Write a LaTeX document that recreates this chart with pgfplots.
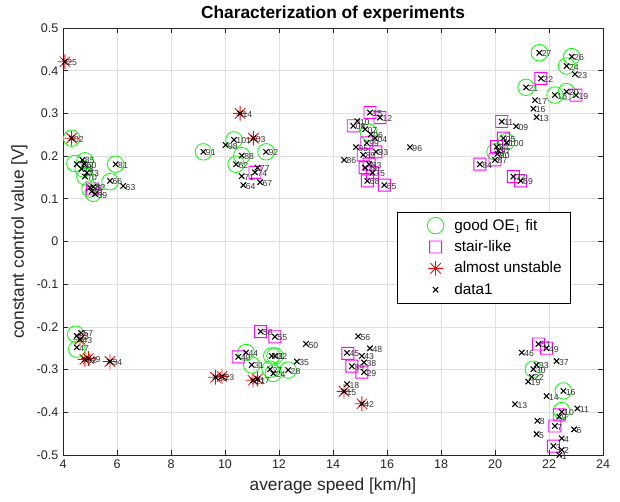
\documentclass[border=0pt]{standalone}
\usepackage{fontspec}
\setmainfont{Liberation Sans}
\usepackage{pgfplots}
\usepackage{pgfplotstable}
\pgfplotsset{compat=1.18}

\definecolor{mgreen}{rgb}{0,1,0}
\definecolor{mmag}{rgb}{1,0,1}
\definecolor{mred}{rgb}{1,0,0}
\definecolor{gridc}{rgb}{0.88,0.88,0.88}
\definecolor{axc}{rgb}{0.15,0.15,0.15}

% eight-armed red asterisk
\pgfdeclareplotmark{ast8}{%
  \pgfsetstrokecolor{mred}%
  \pgfpathmoveto{\pgfqpoint{-\pgfplotmarksize}{0pt}}%
  \pgfpathlineto{\pgfqpoint{\pgfplotmarksize}{0pt}}%
  \pgfpathmoveto{\pgfqpoint{0pt}{-\pgfplotmarksize}}%
  \pgfpathlineto{\pgfqpoint{0pt}{\pgfplotmarksize}}%
  \pgfpathmoveto{\pgfqpoint{-0.7071\pgfplotmarksize}{-0.7071\pgfplotmarksize}}%
  \pgfpathlineto{\pgfqpoint{0.7071\pgfplotmarksize}{0.7071\pgfplotmarksize}}%
  \pgfpathmoveto{\pgfqpoint{-0.7071\pgfplotmarksize}{0.7071\pgfplotmarksize}}%
  \pgfpathlineto{\pgfqpoint{0.7071\pgfplotmarksize}{-0.7071\pgfplotmarksize}}%
  \pgfusepathqstroke}

% open magenta square, painted as a filled frame
\pgfdeclareplotmark{sqmag}{%
  \pgfsetfillcolor{mmag}%
  \dimen0=\pgfplotmarksize \advance\dimen0 by 0.35pt
  \dimen2=\pgfplotmarksize \advance\dimen2 by -0.35pt
  \pgfpathrectanglecorners{\pgfqpoint{-\dimen0}{-\dimen0}}{\pgfqpoint{\dimen0}{\dimen0}}%
  \pgfpathrectanglecorners{\pgfqpoint{-\dimen2}{-\dimen2}}{\pgfqpoint{\dimen2}{\dimen2}}%
  \pgfseteorule
  \pgfusepathqfill}

% open green circle
\pgfdeclareplotmark{cgreen}{%
  \pgfsetstrokecolor{mgreen}%
  \pgfpathcircle{\pgfpointorigin}{\pgfplotmarksize}%
  \pgfusepathqstroke}

% black cross
\pgfdeclareplotmark{xblk}{%
  \pgfsetstrokecolor{black}%
  \pgfpathmoveto{\pgfqpoint{-\pgfplotmarksize}{-\pgfplotmarksize}}%
  \pgfpathlineto{\pgfqpoint{\pgfplotmarksize}{\pgfplotmarksize}}%
  \pgfpathmoveto{\pgfqpoint{-\pgfplotmarksize}{\pgfplotmarksize}}%
  \pgfpathlineto{\pgfqpoint{\pgfplotmarksize}{-\pgfplotmarksize}}%
  \pgfusepathqstroke}

% all experiments: speed, control value, run number
\pgfplotstableread{
x y lab
4.07 0.421 25
4.32 0.242 02
4.51 0.181 35
4.72 0.191 85
4.79 0.181 60
4.69 0.170 78
4.88 0.161 73
4.81 0.152 70
5.00 0.126 32
5.12 0.128 82
5.06 0.117 61
5.19 0.111 39
5.95 0.181 81
5.74 0.142 66
6.23 0.130 63
10.56 0.300 14
11.05 0.242 03
10.33 0.238 101
10.02 0.226 98
9.20 0.210 91
11.52 0.210 92
10.62 0.201 88
10.41 0.181 62
11.20 0.173 77
11.11 0.162 74
10.62 0.153 71
10.68 0.132 64
11.30 0.139 67
15.37 0.302 15
15.74 0.290 12
14.90 0.282 10
14.75 0.271 08
15.19 0.263 07
15.40 0.251 06
15.56 0.242 04
15.25 0.231 99
14.85 0.221 95
15.12 0.203 89
15.59 0.210 93
14.41 0.191 86
16.85 0.221 96
15.34 0.181 83
15.19 0.173 79
15.47 0.161 75
15.27 0.142 68
15.90 0.132 65
21.64 0.442 27
22.84 0.433 26
22.65 0.411 24
22.96 0.392 23
21.70 0.382 22
21.15 0.361 21
22.22 0.343 18
22.65 0.351 20
23.00 0.343 19
21.48 0.331 17
21.42 0.311 16
21.54 0.291 13
20.25 0.281 11
20.78 0.270 09
20.31 0.242 05
20.43 0.231 100
20.06 0.222 94
20.12 0.213 97
20.09 0.205 90
20.00 0.191 87
19.44 0.181 84
20.68 0.152 72
20.95 0.142 69
4.67 -0.214 57
4.51 -0.221 53
4.63 -0.229 43
4.51 -0.248 47
4.81 -0.276 52
4.94 -0.274 49
5.74 -0.281 34
11.32 -0.211 58
11.85 -0.223 55
13.00 -0.240 50
10.78 -0.260 44
10.49 -0.270 40
10.99 -0.289 31
11.73 -0.268 41
11.85 -0.268 32
12.66 -0.281 35
12.34 -0.301 28
11.67 -0.299 27
11.79 -0.309 24
9.65 -0.318 30
9.89 -0.316 23
11.04 -0.325 21
11.20 -0.322 17
14.93 -0.222 56
15.37 -0.250 48
14.52 -0.261 45
15.07 -0.268 43
15.15 -0.283 38
14.70 -0.292 39
15.15 -0.306 29
14.52 -0.334 18
14.41 -0.351 15
15.07 -0.380 42
21.61 -0.240 51
21.91 -0.250 49
20.99 -0.260 46
22.28 -0.280 37
21.54 -0.289 33
21.42 -0.299 30
21.36 -0.317 22
21.23 -0.328 19
22.53 -0.350 16
21.91 -0.362 14
20.74 -0.381 13
23.05 -0.391 11
22.47 -0.399 10
22.38 -0.410 9
21.57 -0.420 8
22.22 -0.432 7
22.93 -0.440 6
21.54 -0.451 5
22.47 -0.461 4
22.16 -0.479 3
22.47 -0.488 2
22.38 -0.500 1
}\alldata

% runs with a good first-order OE fit
\pgfplotstableread{
x y
4.32 0.242
4.44 0.183
4.81 0.189
4.75 0.170
4.81 0.152
5.00 0.123
5.12 0.113
5.74 0.140
5.95 0.181
10.33 0.238
9.20 0.210
11.52 0.210
10.62 0.201
10.41 0.181
15.31 0.256
21.64 0.442
22.84 0.433
22.65 0.411
21.15 0.361
22.22 0.343
22.65 0.351
20.43 0.234
20.00 0.210
4.47 -0.217
4.51 -0.252
10.78 -0.260
10.99 -0.289
11.73 -0.268
11.85 -0.268
11.67 -0.299
11.79 -0.309
12.34 -0.301
21.42 -0.299
22.53 -0.350
22.47 -0.396
}\goodfit

% runs with a stair-like response
\pgfplotstableread{
x y
5.09 0.123
11.11 0.162
15.37 0.302
15.74 0.290
14.75 0.271
15.25 0.231
15.12 0.203
15.59 0.210
15.34 0.181
15.19 0.173
15.47 0.161
15.27 0.142
15.90 0.132
21.70 0.382
23.00 0.343
20.25 0.281
20.31 0.242
20.06 0.222
20.00 0.191
19.44 0.181
20.68 0.152
20.95 0.142
11.32 -0.211
11.85 -0.223
10.49 -0.270
14.55 -0.262
14.70 -0.292
15.07 -0.306
21.61 -0.240
21.91 -0.250
22.38 -0.406
22.22 -0.432
22.16 -0.479
}\stair

% runs that were almost unstable
\pgfplotstableread{
x y
4.07 0.421
4.32 0.242
10.56 0.300
11.05 0.242
4.63 -0.229
4.81 -0.276
4.94 -0.274
5.74 -0.281
9.65 -0.318
9.89 -0.316
11.04 -0.325
11.20 -0.322
14.41 -0.351
15.07 -0.380
}\unstable

\begin{document}
\begin{tikzpicture}
\begin{axis}[
  scale only axis,
  width=405pt, height=320.25pt,
  xmin=4, xmax=24, ymin=-0.5, ymax=0.5,
  xtick={4,6,...,24},
  ytick={-0.5,-0.4,...,0.5},
  yticklabel style={/pgf/number format/fixed, /pgf/number format/precision=1},
  /pgf/number format/assume math mode=true,
  tick label style={font=\fontsize{9.4}{11}\selectfont, text=axc},
  label style={font=\fontsize{13}{15}\selectfont, text=axc},
  title style={font=\fontsize{13}{15}\selectfont\bfseries, yshift=-5pt},
  title={Characterization of experiments},
  xlabel={average speed [km/h]},
  ylabel={constant control value [V]},
  grid=major,
  major grid style={gridc, line width=0.5pt},
  axis line style={axc, line width=0.6pt},
  tick style={axc, line width=0.6pt},
  tick align=inside,
  major tick length=4pt,
  legend style={at={(0.619,0.569)}, anchor=north west, draw=black, line width=0.5pt,
    fill=white, font=\fontsize{11.5}{14}\selectfont,
    nodes={font=\fontsize{11.5}{14}\selectfont},
    cells={anchor=west},
    inner xsep=4.5pt, inner ysep=3pt, row sep=2.2pt},
  legend cell align=left,
  legend image code/.code={%
    \path[draw=none, fill=none] (0pt,-4pt) rectangle (36pt,4pt);
    \draw[#1] plot coordinates {(24pt,0pt)};},
]
% legend entries
\addlegendimage{only marks, mark=cgreen, mark size=6.2pt, mark options={line width=0.6pt}}
\addlegendentry{good OE$_1$ fit}
\addlegendimage{only marks, mark=sqmag, mark size=4.5pt}
\addlegendentry{stair-like}
\addlegendimage{only marks, mark=ast8, mark size=5.5pt, mark options={line width=0.6pt}}
\addlegendentry{almost unstable}
\addlegendimage{only marks, mark=xblk, mark size=2pt, mark options={line width=0.8pt}}
\addlegendentry{data1}

\addplot[forget plot, only marks, mark=cgreen, mark size=6.2pt, color=mgreen,
  mark options={line width=0.6pt}]
  table {\goodfit};
\addplot[forget plot, only marks, mark=ast8, mark size=5.5pt, color=mred,
  mark options={line width=0.6pt}]
  table {\unstable};
\addplot[forget plot, only marks, mark=sqmag, mark size=4.5pt, color=mmag]
  table {\stair};
\addplot[forget plot, only marks, mark=xblk, mark size=2pt, color=black,
  mark options={line width=0.8pt},
  nodes near coords, point meta=explicit symbolic,
  every node near coord/.append style={anchor=west, font=\fontsize{6.5}{7}\selectfont,
    text=black!80, inner sep=0.5pt, xshift=1pt, yshift=-0.8pt}]
  table[meta=lab] {\alldata};
\end{axis}
\pgfresetboundingbox
\path[use as bounding box]
  ([xshift=-47.25pt, yshift=-34.5pt]current axis.south west) rectangle
  ([xshift=12.75pt, yshift=21pt]current axis.north east);
\end{tikzpicture}
\end{document}
